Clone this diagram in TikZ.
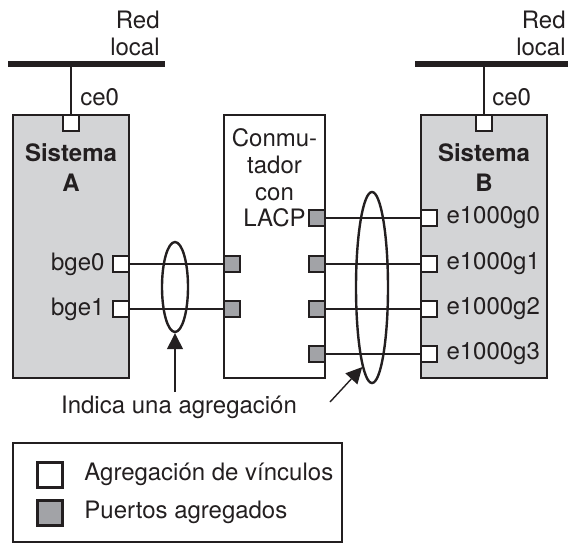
\documentclass[tikz,border=0pt]{standalone}
\usepackage{fontspec}
\setmainfont{TeX Gyre Heros}
\usepackage{tikz}
\usetikzlibrary{arrows.meta,positioning,shapes.geometric}
\definecolor{ink}{RGB}{35,31,32}
\definecolor{sysfill}{RGB}{211,212,214}
\definecolor{portgray}{RGB}{162,163,167}
\tikzset{
  sys/.style={
    rectangle, draw=ink, fill=sysfill, line width=1.3pt, inner sep=0pt,
    minimum height=131.5pt
  },
  sw/.style={
    rectangle, draw=ink, fill=white, line width=1.3pt, inner sep=0pt,
    minimum height=131.5pt
  },
  aggport/.style={
    rectangle, draw=ink, fill=white, line width=1.2pt, inner sep=0pt,
    minimum size=8pt
  },
  swport/.style={
    rectangle, draw=ink, fill=portgray, line width=1.2pt, inner sep=0pt,
    minimum size=8pt
  },
  link/.style={draw=ink, line width=1pt},
  lan/.style={draw=ink, line width=2.6pt},
  agg/.style={ellipse, draw=ink, line width=1.2pt, inner sep=0pt},
  pointer/.style={-{Triangle[length=8pt,width=8pt]}, draw=ink, line width=0.7pt}
}
\begin{document}
\begin{tikzpicture}[x=0.5pt, y=-0.5pt, inner sep=0pt, text=ink,
  font=\fontsize{12}{13.5}\selectfont]
\useasboundingbox (0,0) rectangle (568,543);
\node[sys, minimum width=58pt] (sysA) at (71,246.5) {};
\node[sw, minimum width=50.5pt] (switch) at (274.5,246.5) {};
\node[sys, minimum width=63pt] (sysB) at (484,246.5) {};
\node[align=center, font=\fontsize{12}{15}\selectfont\bfseries] (nameA) at (71,168) {Sistema\\A};
\node[align=center, font=\fontsize{12}{15}\selectfont\bfseries] (nameB) at (484,168) {Sistema\\B};
\node[align=center, font=\fontsize{12}{13.4}\selectfont] (swname) at (274.5,178) {Conmu-\\tador\\con\\LACP};
\coordinate (lanAw) at (8,64);
\coordinate (lanAe) at (165,64);
\coordinate (lanBw) at (415,64);
\coordinate (lanBe) at (568,64);
\draw[lan] (lanAw) -- (lanAe);
\draw[lan] (lanBw) -- (lanBe);
\node[align=right, anchor=east] (redA) at (160,33.5) {Red\\local};
\node[align=right, anchor=east] (redB) at (566,33.5) {Red\\local};
\node[aggport, anchor=north] (ceA) at (sysA.north) {};
\node[aggport, anchor=north] (ceB) at (sysB.north) {};
\draw[link] (ceA.north) -- (ceA.north |- lanAw);
\draw[link] (ceB.north) -- (ceB.north |- lanBw);
\node[anchor=west] (ceAlbl) at (80,97) {ce0};
\node[anchor=west] (ceBlbl) at (492,97) {ce0};
\node[aggport, anchor=east] (bge0) at (sysA.east |- 0,264) {};
\node[aggport, anchor=east] (bge1) at (sysA.east |- 0,309) {};
\node[left=3.5pt of bge0] {bge0};
\node[left=3.5pt of bge1] {bge1};
\node[swport, anchor=west] (swA0) at (switch.west |- 0,264) {};
\node[swport, anchor=west] (swA1) at (switch.west |- 0,309) {};
\node[swport, anchor=east] (swB0) at (switch.east |- 0,218) {};
\node[swport, anchor=east] (swB1) at (switch.east |- 0,264) {};
\node[swport, anchor=east] (swB2) at (switch.east |- 0,309) {};
\node[swport, anchor=east] (swB3) at (switch.east |- 0,354) {};
\node[aggport, anchor=west] (g0) at (sysB.west |- 0,218) {};
\node[aggport, anchor=west] (g1) at (sysB.west |- 0,264) {};
\node[aggport, anchor=west] (g2) at (sysB.west |- 0,309) {};
\node[aggport, anchor=west] (g3) at (sysB.west |- 0,354) {};
\node[right=4pt of g0] {e1000g0};
\node[right=4pt of g1] {e1000g1};
\node[right=4pt of g2] {e1000g2};
\node[right=4pt of g3] {e1000g3};
\draw[link] (bge0) -- (swA0);
\draw[link] (bge1) -- (swA1);
\draw[link] (swB0) -- (g0);
\draw[link] (swB1) -- (g1);
\draw[link] (swB2) -- (g2);
\draw[link] (swB3) -- (g3);
\node[agg, minimum width=13pt, minimum height=45pt] (aggA) at (175,287) {};
\node[agg, minimum width=16pt, minimum height=95.5pt] (aggB) at (372,287.5) {};
\node (note) at (179,407) {Indica una agregación};
\coordinate (tailA) at (175,392);
\coordinate (tailB) at (330,402);
\draw[pointer] (tailA) -- (aggA.south);
\draw[pointer] (tailB) -- (aggB.263);
\node[draw=ink, line width=1.2pt, minimum width=164.5pt, minimum height=49.5pt] (legend) at (177.5,492.5) {};
\node[aggport, line width=1.5pt, minimum size=12.5pt] (keyagg) at (50,474.5) {};
\node[swport, line width=1.5pt, minimum size=12.5pt] (keyport) at (50,512.5) {};
\node[right=10pt of keyagg] {Agregación de vínculos};
\node[right=10pt of keyport] {Puertos agregados};
\end{tikzpicture}
\end{document}
